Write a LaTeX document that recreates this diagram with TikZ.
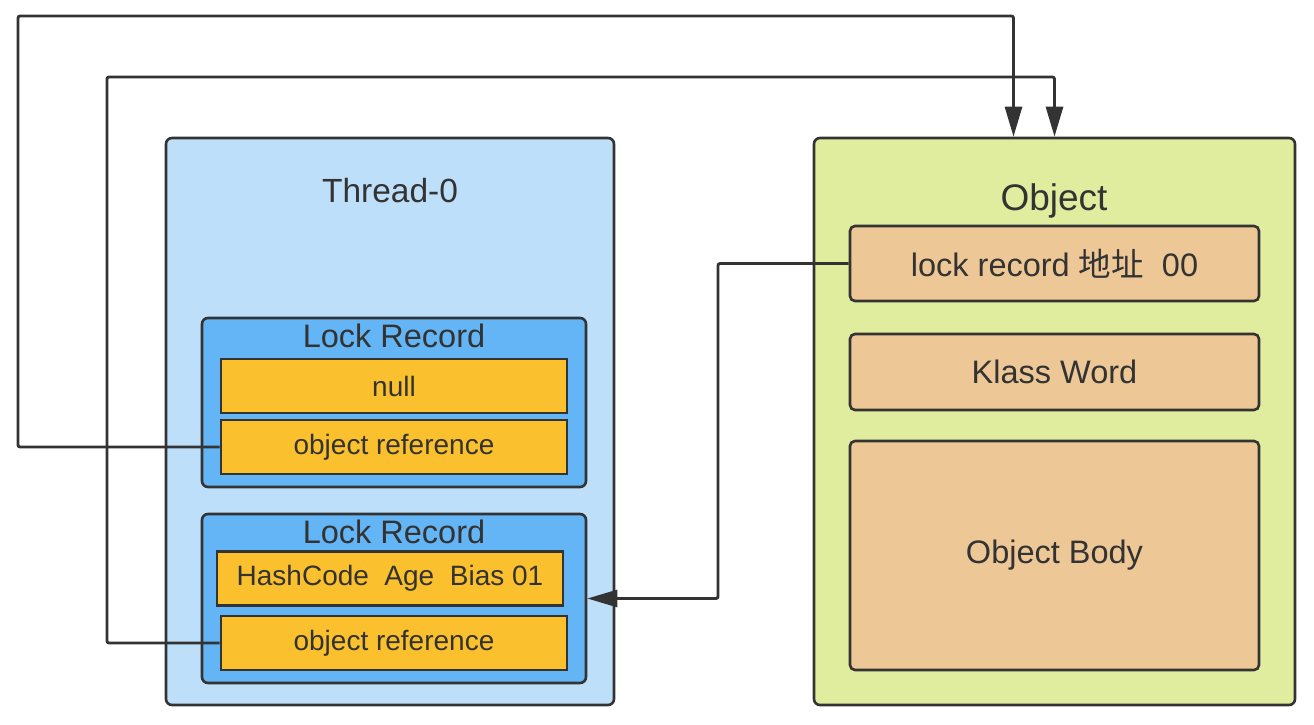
\documentclass[tikz,border=0pt]{standalone}
\usepackage{fontspec}
\setmainfont{Liberation Sans}
\newfontfamily\cjk{Noto Sans CJK SC}
\usepackage{tikz}
\usetikzlibrary{shapes}
\usetikzlibrary{arrows.meta}
\usetikzlibrary{positioning}
\usetikzlibrary{calc}
\definecolor{bordure}{HTML}{333333}
\definecolor{bleuclair}{HTML}{BDDFF9}
\definecolor{bleu}{HTML}{64B5F6}
\definecolor{jaune}{HTML}{FBC02D}
\definecolor{vert}{HTML}{E0EC9E}
\definecolor{orange}{HTML}{EDC896}
\tikzset{pointe/.tip={Triangle[length=30pt,width=17pt]}}
\tikzstyle{cadre}=[rectangle,draw=bordure,line width=2.6pt,rounded corners=6pt,inner sep=0pt]
\tikzstyle{thread}=[cadre,fill=bleuclair,minimum width=448pt,minimum height=567pt]
\tikzstyle{lockrec}=[cadre,fill=bleu,minimum width=384pt,minimum height=169pt]
\tikzstyle{champ}=[rectangle,draw=bordure,line width=2.6pt,fill=jaune,minimum width=346pt,minimum height=54pt,font=\fontsize{28}{32}\selectfont,text=bordure]
\tikzstyle{objet}=[cadre,fill=vert,minimum width=481pt,minimum height=567pt]
\tikzstyle{entete}=[cadre,fill=orange,minimum width=409pt,rounded corners=5pt,font=\fontsize{32.5}{36}\selectfont,text=bordure]
\tikzstyle{titre}=[text=bordure,inner sep=0pt,font=\fontsize{32.5}{36}\selectfont]
\tikzstyle{suite}=[-pointe,draw=bordure,line width=2.8pt,rounded corners=2pt]
\begin{document}
\begin{tikzpicture}[x=1pt,y=-1pt]
\useasboundingbox (0,0) rectangle (1314,724);
\node[thread] (t) at (390,421.5) {};
\node[titre,font=\fontsize{33.5}{37}\selectfont] (tn) at (390,191) {Thread-0};
\node[lockrec] (lr1) at (394,402.5) {};
\node[titre] (lt1) at (394,336) {Lock Record};
\node[champ] (null) at (394,386) {null};
\node[champ] (ref1) at (394,447) {object reference};
\node[lockrec] (lr2) at (394,598.5) {};
\node[titre] (lt2) at (394,532) {Lock Record};
\node[champ] (hash) at (390,578.5) {HashCode\ \ Age\ \ Bias 01};
\node[champ] (ref2) at (394,643) {object reference};
\node[objet] (obj) at (1054.5,421.5) {};
\node[titre,font=\fontsize{37}{41}\selectfont] (on) at (1054,201) {Object};
\node[entete,minimum height=75pt] (addr) at (1054.5,263.5) {lock record {\cjk 地址}\ \ 00};
\node[entete,minimum height=76pt] (klass) at (1054.5,372) {Klass Word};
\node[entete,minimum height=229pt] (body) at (1054.5,555.5) {Object Body};
%Placement des fleches
\coordinate (h1) at (18,16);
\coordinate (h2) at (107,77);
\coordinate (v3) at (718,598.5);
\draw[suite] (ref1.west) -| (h1) -| ($(obj.north)+(-41,0)$);
\draw[suite] (ref2.west) -| (h2) -| (obj.north);
\draw[suite] (addr.west) -| (v3) -- (lr2.east);
\end{tikzpicture}
\end{document}
